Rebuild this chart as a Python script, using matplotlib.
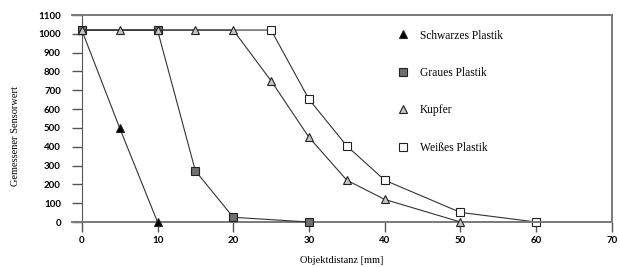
import numpy as np
import matplotlib as mpl
import matplotlib.pyplot as plt

# ================================================= Data ================================================= #

schwarz_x = [0, 5, 10]
schwarz_y = [1020, 500, 0]

grau_x = [0, 10, 15, 20, 30]
grau_y = [1020, 1020, 272, 25, 0]

kupfer_x = [0, 5, 10, 15, 20, 25, 30, 35, 40, 50]
kupfer_y = [1020, 1020, 1020, 1020, 1020, 750, 450, 222, 120, 0]

weiss_x = [0, 25, 30, 35, 40, 50, 60]
weiss_y = [1020, 1020, 652, 404, 222, 51, 0]

x_ticks = [0, 10, 20, 30, 40, 50, 60, 70]
y_ticks = [0, 100, 200, 300, 400, 500, 600, 700, 800, 900, 1000, 1100]

# ================================================= Plotting ================================================= #

serif = 'Liberation Serif'
tickfont = 'Lato'

fig = plt.figure(figsize=(6.2, 2.67), dpi=100)
ax = fig.add_axes([0.116, 0.1685, 0.871, 0.7753])

line_kw = dict(color='#333333', lw=0.8, markeredgecolor='#222222', markeredgewidth=0.8,
               clip_on=False)

ax.plot(weiss_x, weiss_y, marker='s', markersize=5.5, markerfacecolor='white',
        markevery=slice(1, None), label='Weißes Plastik', zorder=2, **line_kw)
ax.plot(schwarz_x, schwarz_y, marker='^', markersize=5.5, markerfacecolor='black',
        label='Schwarzes Plastik', zorder=3, **line_kw)
ax.plot(grau_x, grau_y, marker='s', markersize=5.5, markerfacecolor='#6e6e6e',
        label='Graues Plastik', zorder=4, **line_kw)
ax.plot(kupfer_x, kupfer_y, marker='^', markersize=5.5, markerfacecolor='#c4c4c4',
        label='Kupfer', zorder=5, **line_kw)

ax.set_xlim(-1.3, 70)
ax.set_ylim(0, 1100)

ax.spines['left'].set_position(('data', 0))
ax.spines['left'].set_color('#555555')
for side in ['top', 'right', 'bottom']:
    ax.spines[side].set_color('#7a7a7a')
    ax.spines[side].set_linewidth(1.4)

ax.set_xticks(x_ticks)
ax.set_yticks(y_ticks)
ax.set_xticklabels([str(v) for v in x_ticks], fontfamily=tickfont, fontsize=7, fontweight='bold')
ax.set_yticklabels([str(v) for v in y_ticks], fontfamily=tickfont, fontsize=7, fontweight='bold')
ax.tick_params(axis='both', direction='out', length=7, width=1, color='#555555', pad=3)
ax.tick_params(axis='y', pad=8)

ax.set_xlabel('Objektdistanz [mm]', fontfamily=serif, fontsize=7.5, labelpad=8)
fig.text(0.025, 0.49, 'Gemessener Sensorwert', rotation=90, fontfamily=serif,
         fontsize=7.5, ha='center', va='center')

handles, labels = ax.get_legend_handles_labels()
order = [1, 2, 3, 0]
leg = ax.legend([handles[i] for i in order], [labels[i] for i in order],
                loc='upper left', bbox_to_anchor=(0.593, 0.98), frameon=False,
                prop={'family': serif, 'size': 8.3}, labelspacing=2.2,
                handlelength=0, handletextpad=1.5, markerscale=1.0)

fig.savefig('out.png', dpi=100)
